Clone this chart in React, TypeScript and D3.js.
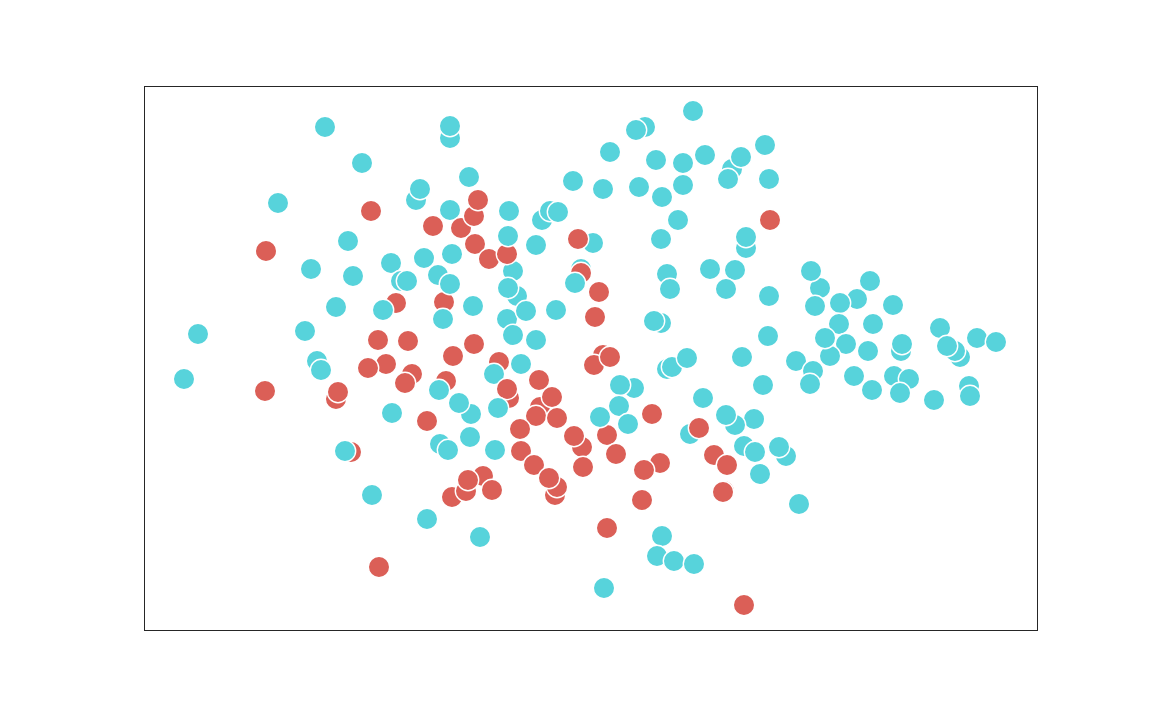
import React from "react";
import * as d3 from "d3";

const WIDTH = 1152;
const HEIGHT = 720;

// Readings in back-to-front drawing order: [x, y, class]
const xValues = [
  325,362,278,416,420,450,450,469,198,184,266,265,371,
  450,433,461,474,478,475,489,513,507,508,509,
  542,550,558,536,593,578,573,603,581,581,575,599,595,
  556,473,444,443,424,452,438,450,391,401,407,353,348,311,336,305,
  396,383,378,408,453,474,317,321,386,368,412,405,
  517,508,507,526,513,536,
  603,594,610,336,338,392,446,439,471,459,427,
  499,494,521,539,509,507,498,540,536,552,557,520,470,440,448,495,
  351,345,521,534,555,557,549,582,574,583,
  607,634,620,619,600,628,616,
  452,466,483,492,468,372,427,480,607,
  660,644,642,652,703,667,672,687,742,763,796,813,810,
  754,735,726,690,699,714,727,724,723,744,755,786,779,760,799,
  662,657,674,694,604,744,379,
  820,811,815,857,840,870,893,839,873,846,830,825,868,854,872,
  894,909,900,901,902,940,960,955,947,977,996,934,969,970,
  610,645,636,656,693,683,705,732,741,728,765,769,639,683,662,678,661,770,746,746,667,670,710,735,726,769,768,661,654,
];
const yValues = [
  127,163,203,200,189,138,126,177,334,379,251,391,211,
  210,226,228,216,200,244,259,271,254,236,211,
  220,211,212,245,243,239,181,189,269,273,283,292,317,
  310,306,302,319,258,254,275,284,263,281,281,276,241,269,307,331,
  303,310,340,341,356,344,361,370,364,368,374,383,
  296,288,319,311,335,340,
  355,365,357,399,392,413,381,390,414,403,421,
  362,374,364,380,398,389,408,407,416,397,418,429,437,444,450,450,
  452,451,451,465,495,487,478,447,436,467,
  435,388,385,406,417,424,454,
  497,491,476,490,480,495,519,537,528,
  463,470,500,414,398,369,367,358,357,385,361,371,384,
  419,425,415,434,428,455,465,491,492,446,452,456,447,474,504,
  536,556,561,564,588,605,567,
  288,271,306,299,303,281,305,324,324,344,356,338,351,376,390,
  376,379,393,351,344,328,357,351,346,338,342,400,386,396,
  152,127,130,160,111,163,155,169,157,179,145,179,187,185,197,220,239,220,248,237,274,289,269,270,289,296,336,323,321,
];
const classValues = [
  "b","b","b","b","b","b","b","b","b","b","a","a","a",
  "b","a","a","a","a","a","a","b","a","b","b",
  "b","b","b","b","b","a","b","b","b","a","b","a","a",
  "b","b","a","b","b","b","b","b","b","b","b","b","b","b","b","b",
  "a","b","a","a","a","a","b","b","a","a","a","a",
  "b","b","b","b","b","b",
  "a","a","a","a","a","b","a","b","b","b","a",
  "a","b","b","a","a","a","b","a","a","a","a","a","b","b","b","b",
  "a","b","a","a","a","a","a","a","a","a",
  "a","b","b","b","b","b","a",
  "a","a","a","a","a","b","b","b","a",
  "a","a","a","a","b","b","b","b","b","b","b","b","b",
  "b","b","b","b","a","a","a","a","a","b","b","b","b","b","b",
  "b","b","b","b","b","a","a",
  "b","b","b","b","b","b","b","b","b","b","b","b","b","b","b",
  "b","b","b","b","b","b","b","b","b","b","b","b","b","b",
  "b","b","b","b","b","b","b","b","b","b","b","b","b","b","b","b","b","a","b","b","b","b","b","b","b","b","b","b","b",
];

const classNames = ["a", "b"];
const classColors = ["#db5f57", "#57d3db"];

export default function App() {
  const x = d3.scaleLinear().domain([144, 1037]).range([144, 1037]);
  const y = d3.scaleLinear().domain([86, 630]).range([86, 630]);
  const color = d3.scaleOrdinal<string, string>().domain(classNames).range(classColors);
  const points = d3.zip(xValues as any[], yValues as any[], classValues as any[]) as [number, number, string][];

  return (
    <svg
      width={WIDTH}
      height={HEIGHT}
      style={{ position: "absolute", left: 0, top: 0, display: "block", background: "#fff" }}
    >
      <g>
        {points.map(([px, py, c], i) => (
          <circle key={i} cx={x(px)} cy={y(py)} r={10.7} fill={color(c)} stroke="#fff" strokeWidth={1.4} />
        ))}
      </g>
      <rect
        x={144.5}
        y={86.5}
        width={893}
        height={544}
        fill="none"
        stroke="#262626"
        strokeWidth={1}
      />
    </svg>
  );
}
